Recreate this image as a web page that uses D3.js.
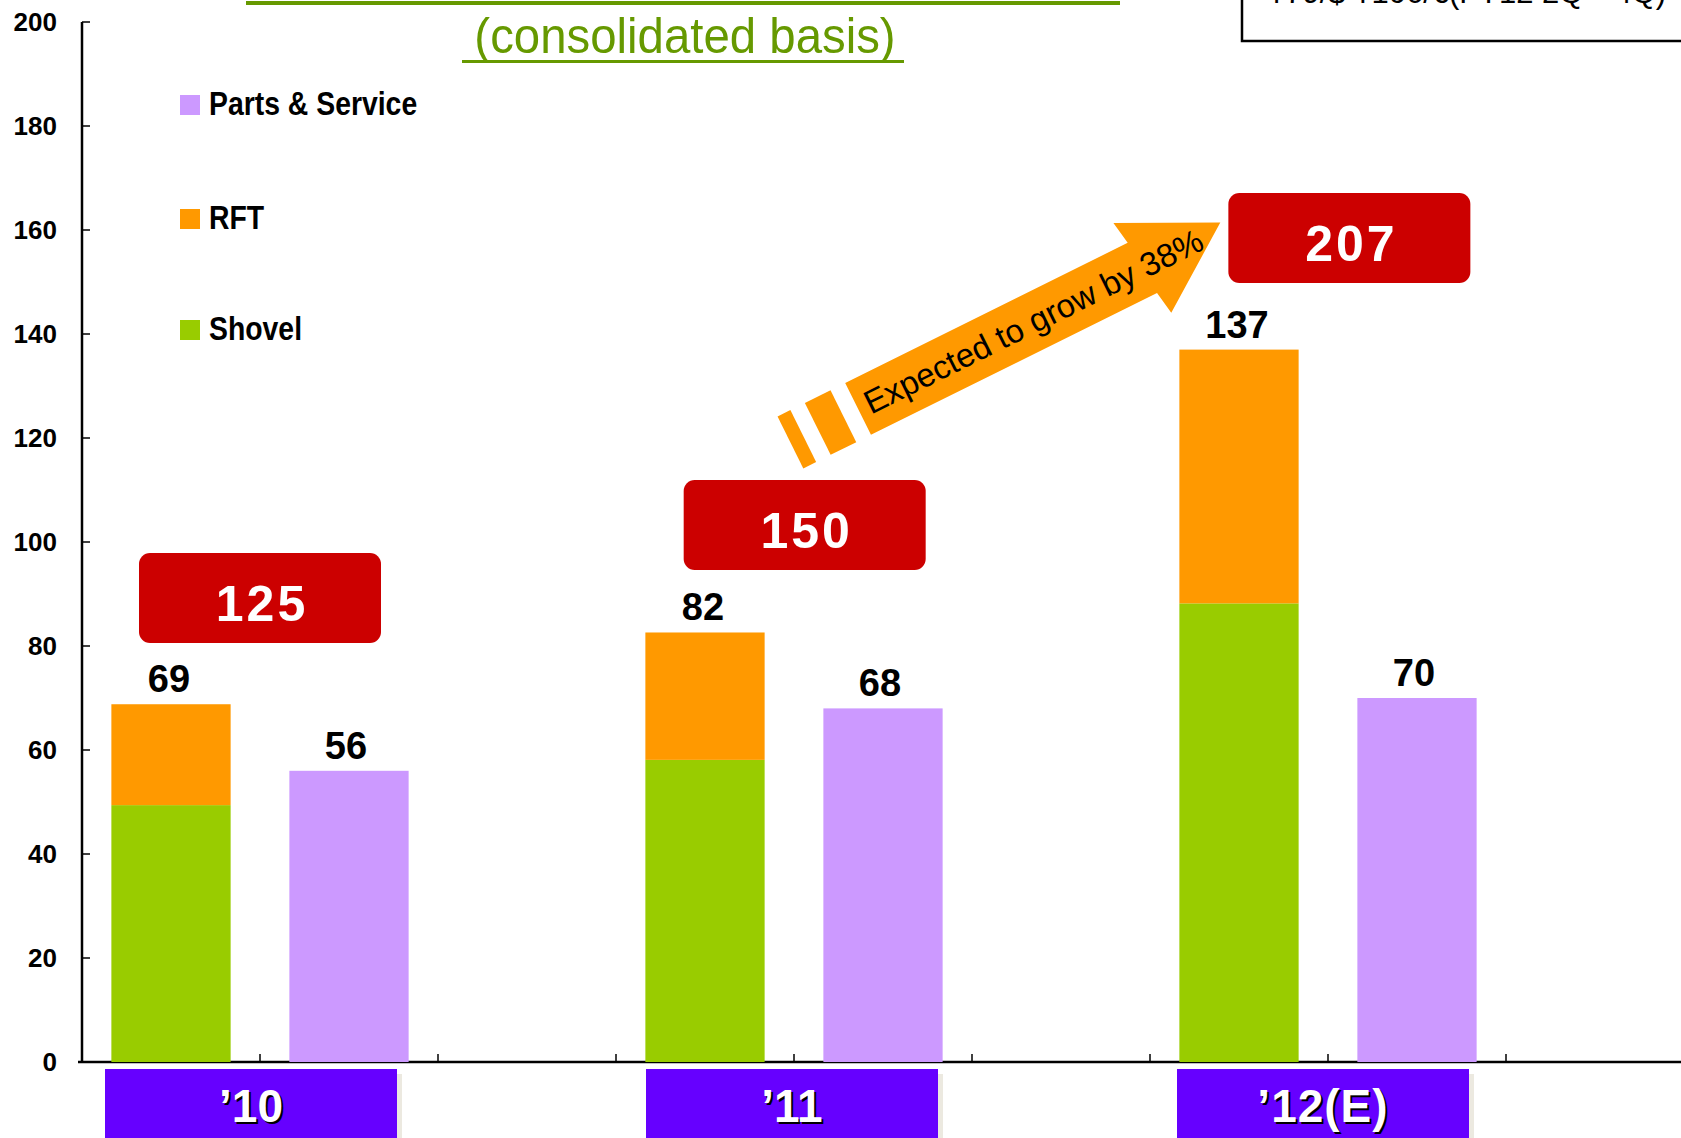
<!DOCTYPE html>
<html><head><meta charset="utf-8">
<script src="https://cdn.jsdelivr.net/npm/d3@7"></script>
<style>html,body{margin:0;padding:0;background:#fff;overflow:hidden}svg{display:block}</style>
</head><body>
<svg id="chart" width="1681" height="1138"></svg>
<script>
// ---- data ----
const years = ["’10", "’11", "’12(E)"];
const shovel = [49.4, 58.1, 88.2];
const rft = [19.4, 24.5, 48.8];
const stackLabels = [69, 82, 137];
const parts = [56, 68, 70];
const totals = [125, 150, 207];
const yTicks = [0, 20, 40, 60, 80, 100, 120, 140, 160, 180, 200];
const legendLabels = ["Parts & Service", "RFT", "Shovel"];
const subtitle = "(consolidated basis)";
const arrowText = "Expected to grow by 38%";
const rateText = "¥79/$ ¥106/€(FY12 2Q～4Q)";

(function(){
const C = {shovel:"#99CC00", rft:"#FF9900", parts:"#CC99FF", red:"#CC0000", purple:"#6600FF", green:"#669900"};
const svg = d3.select("#chart");
const W = 1681, H = 1138;
const mLeft = 82, mBottom = 1062, mTop = 22;
const nSlots = 9;
const slotW = 178;

const y = d3.scaleLinear().domain([0, 200]).range([mBottom, mTop]);
const x = d3.scaleBand().domain(d3.range(nSlots)).range([mLeft, mLeft + nSlots * slotW]).padding(0);
const xs = d3.scaleLinear().domain([0, nSlots]).range([mLeft, mLeft + nSlots * slotW]); // slot-unit scale
const barW = x.bandwidth() * 0.67;
const FF = "Liberation Sans, Arial, sans-serif";

// ---- top decorations ----
svg.append("rect").attr("x", 246).attr("y", 1).attr("width", 874).attr("height", 4).attr("fill", C.green);
svg.append("text").attr("text-anchor", "middle")
  .attr("font-family", FF).attr("font-size", 46)
  .attr("fill", C.green).attr("transform", "translate(685,53) scale(1.03,1.07)")
  .text(subtitle);
svg.append("rect").attr("x", 462).attr("y", 60).attr("width", 442).attr("height", 3).attr("fill", C.green);

svg.append("rect").attr("x", 1242).attr("y", -20).attr("width", 460).attr("height", 61)
  .attr("fill", "#fff").attr("stroke", "#000").attr("stroke-width", 2.5);
svg.append("text").attr("x", 1268).attr("y", 3).attr("font-family", FF)
  .attr("font-size", 31).attr("fill", "#000").text(rateText);

// ---- axes ----
const g = svg.append("g");
g.append("line").attr("x1", mLeft).attr("x2", mLeft).attr("y1", y(200)).attr("y2", y(0)).attr("stroke", "#000").attr("stroke-width", 2.5);
g.append("line").attr("x1", mLeft - 4).attr("x2", W).attr("y1", y(0)).attr("y2", y(0)).attr("stroke", "#000").attr("stroke-width", 2.5);
yTicks.forEach(v => {
  g.append("line").attr("x1", mLeft).attr("x2", mLeft + 8).attr("y1", y(v)).attr("y2", y(v)).attr("stroke", "#000").attr("stroke-width", 1.5);
  g.append("text").attr("x", 57).attr("y", y(v)).attr("dy", "0.36em").attr("text-anchor", "end")
    .attr("font-family", FF).attr("font-weight", "bold").attr("font-size", 26)
    .attr("fill", "#000").text(v);
});
d3.range(1, nSlots).forEach(i => {
  g.append("line").attr("x1", xs(i)).attr("x2", xs(i)).attr("y1", y(0)).attr("y2", y(0) - 8).attr("stroke", "#000").attr("stroke-width", 1.5);
});

// ---- bars ----
years.forEach((yr, i) => {
  const sSlot = 3 * i, pSlot = 3 * i + 1;
  const cx = x(sSlot) + x.bandwidth() / 2;
  svg.append("rect").attr("x", cx - barW / 2).attr("width", barW)
    .attr("y", y(shovel[i])).attr("height", y(0) - y(shovel[i])).attr("fill", C.shovel);
  svg.append("rect").attr("x", cx - barW / 2).attr("width", barW)
    .attr("y", y(shovel[i] + rft[i])).attr("height", y(shovel[i]) - y(shovel[i] + rft[i])).attr("fill", C.rft);
  svg.append("text").attr("x", cx - 2).attr("y", y(shovel[i] + rft[i]) - 12).attr("text-anchor", "middle")
    .attr("font-family", FF).attr("font-weight", "bold").attr("font-size", 38)
    .attr("fill", "#000").text(stackLabels[i]);
  const px = x(pSlot) + x.bandwidth() / 2;
  svg.append("rect").attr("x", px - barW / 2).attr("width", barW)
    .attr("y", y(parts[i])).attr("height", y(0) - y(parts[i])).attr("fill", C.parts);
  svg.append("text").attr("x", px - 3).attr("y", y(parts[i]) - 12).attr("text-anchor", "middle")
    .attr("font-family", FF).attr("font-weight", "bold").attr("font-size", 38)
    .attr("fill", "#000").text(parts[i]);
});

// ---- total boxes (anchored in slot/value units) ----
const boxAnchors = [{s: 1.0, v: 97.9}, {s: 4.06, v: 111.9}, {s: 7.12, v: 167.1}];
const boxH = 17.3; // value units
totals.forEach((t, i) => {
  const a = boxAnchors[i];
  const cx = xs(a.s);
  const y0 = y(a.v), h = y(a.v - boxH) - y(a.v);
  svg.append("rect").attr("x", cx - 121).attr("y", y0).attr("width", 242).attr("height", h)
    .attr("rx", 11).attr("fill", C.red);
  svg.append("text").attr("x", cx + 2).attr("y", y0 + h / 2 + 5).attr("dy", "0.36em").attr("text-anchor", "middle")
    .attr("font-family", FF).attr("font-weight", "bold").attr("font-size", 50)
    .attr("letter-spacing", 3).attr("fill", "#fff").text(t);
});

// ---- arrow ----
{
  const p0 = [xs(4.36), y(125.6)], p1 = [xs(6.41), y(160.4)];
  const dx = p1[0] - p0[0], dy = p1[1] - p0[1];
  const L = Math.hypot(dx, dy);
  const ang = Math.atan2(dy, dx) * 180 / Math.PI;
  const ag = svg.append("g").attr("transform", `translate(${p0[0]},${p0[1]}) rotate(${ang})`);
  const bw = 29, hw = 53, hl = 92;
  ag.append("path").attr("fill", C.rft)
    .attr("d", `M0,${-bw} L${L - hl},${-bw} L${L - hl - 4},${-hw} L${L},${-6} L${L - hl + 8},${hw} L${L - hl + 4},${bw} L0,${bw} Z`);
  ag.append("rect").attr("x", -45).attr("y", -bw).attr("width", 28.6).attr("height", 2 * bw).attr("fill", C.rft);
  ag.append("rect").attr("x", -75.5).attr("y", -bw).attr("width", 14.3).attr("height", 2 * bw).attr("fill", C.rft);
  ag.append("text").attr("x", 196).attr("y", -1).attr("dy", "0.36em").attr("text-anchor", "middle")
    .attr("font-family", FF).attr("font-size", 33).attr("fill", "#000")
    .text(arrowText);
}

// ---- legend ----
const legendColors = [C.parts, C.rft, C.shovel];
const legendY = [115, 229, 340];
legendLabels.forEach((lab, i) => {
  svg.append("rect").attr("x", 180).attr("y", legendY[i] - 20).attr("width", 20).attr("height", 20).attr("fill", legendColors[i]);
  svg.append("text").attr("transform", `translate(209,${legendY[i]}) scale(0.86,1)`)
    .attr("font-family", FF).attr("font-weight", "bold").attr("font-size", 33)
    .attr("fill", "#000").text(lab);
});

// ---- category boxes ----
const catShift = [-9, -2, -5];
years.forEach((yr, i) => {
  const cx = xs(3 * i + 1) + catShift[i];
  svg.append("rect").attr("x", cx - 146 + 5).attr("y", 1069 + 5).attr("width", 292).attr("height", 80).attr("fill", "#ECE9E0");
  svg.append("rect").attr("x", cx - 146).attr("y", 1069).attr("width", 292).attr("height", 80).attr("fill", C.purple);
  const t = svg.append("g").attr("font-family", FF).attr("font-weight", "bold")
    .attr("font-size", 46).attr("text-anchor", "middle").attr("letter-spacing", i === 2 ? 1 : 0);
  t.append("text").attr("x", cx + 2).attr("y", 1124).attr("fill", "#000").text(yr);
  t.append("text").attr("x", cx).attr("y", 1122).attr("fill", "#fff").text(yr);
});
})();
</script>
</body></html>
